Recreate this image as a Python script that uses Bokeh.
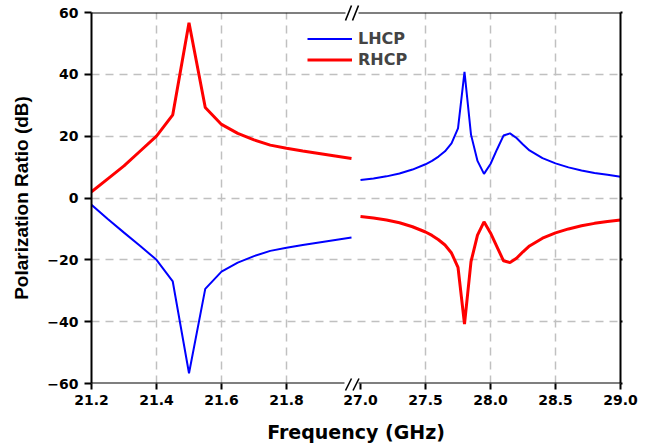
from bokeh.plotting import figure
from bokeh.models import (LinearAxis, Range1d, FixedTicker, Grid, Legend,
                          LegendItem, CustomJSTickFormatter)
from bokeh.embed import file_html
from bokeh.resources import INLINE

# ---------------- data ----------------
freq_left = [21.2, 21.25, 21.3, 21.35, 21.4, 21.45, 21.5, 21.55, 21.6,
             21.65, 21.7, 21.75, 21.8, 21.85, 21.9, 21.95, 22.0]
lhcp_left = [-2.2, -6.8, -11.2, -15.5, -20.0, -27.0, -56.7, -29.4, -23.8,
             -20.9, -18.8, -17.1, -16.1, -15.2, -14.4, -13.6, -12.8]
rhcp_left = [2.0, 6.2, 10.4, 15.2, 20.0, 26.9, 56.7, 29.3, 23.8,
             20.9, 18.8, 17.1, 16.1, 15.2, 14.4, 13.6, 12.8]

freq_right = [27.0, 27.1, 27.2, 27.3, 27.4, 27.5, 27.55, 27.6, 27.65, 27.7,
              27.75, 27.8, 27.85, 27.9, 27.95, 28.0, 28.05, 28.1, 28.15,
              28.2, 28.25, 28.3, 28.4, 28.5, 28.6, 28.7, 28.8, 28.9, 29.0]
lhcp_right = [5.8, 6.3, 7.0, 7.9, 9.2, 10.9, 12.0, 13.4, 15.1, 17.7,
              22.5, 40.8, 20.5, 12.0, 7.8, 11.0, 15.7, 20.2, 20.9,
              19.4, 17.3, 15.4, 12.9, 11.2, 9.9, 8.9, 8.1, 7.5, 6.9]
rhcp_right = [-6.0, -6.5, -7.1, -8.0, -9.3, -11.0, -12.1, -13.5, -15.2, -17.8,
              -22.4, -40.8, -20.6, -12.0, -7.7, -11.3, -15.8, -20.3, -20.9,
              -19.5, -17.4, -15.5, -13.0, -11.3, -10.0, -9.0, -8.2, -7.6, -7.1]

y_ticks = [-60, -40, -20, 0, 20, 40, 60]
y_grid = [-40, -20, 0, 20, 40]
x_ticks_left = [21.2, 21.4, 21.6, 21.8]
x_grid_left = [21.4, 21.6, 21.8]
x_ticks_right = [27.0, 27.5, 28.0, 28.5, 29.0]
x_grid_right = [27.5, 28.0, 28.5]

# ---------------- layout constants ----------------
W, H = 650, 448
FL, FR, FT, FB = 91, 620, 12, 383
L_PX = 325.0          # px per GHz, left segment
R_PX = 130.0          # px per GHz, right segment
R0_PX = 360.0         # pixel where 27.0 GHz sits
BRK_L_TOP, BRK_L_BOT, BRK_R = 345.0, 344.0, 358.0

x_left = Range1d(21.2, 21.2 + (FR - FL) / L_PX)
x_right = Range1d(27.0 - (R0_PX - FL) / R_PX, 29.0)
y_rng = Range1d(-60, 60)

def px2xl(px):
    return 21.2 + (px - FL) / L_PX

def px2xr(px):
    return 27.0 + (px - R0_PX) / R_PX

def py2y(py):
    return 60 - (py - FT) * 120.0 / (FB - FT)

p = figure(width=W, height=H, x_range=x_left, y_range=y_rng,
           x_axis_location=None, y_axis_location=None,
           toolbar_location=None, output_backend="svg",
           min_border_left=FL, min_border_right=W - FR,
           min_border_top=FT, min_border_bottom=H - FB)
p.center = []
p.extra_x_ranges = {"right": x_right}
p.outline_line_color = None
p.background_fill_color = "white"
p.border_fill_color = "white"

TICK_FONT = "DejaVu Sans"

def style_axis(ax, tick_out=6):
    ax.axis_line_width = 2
    ax.axis_line_color = "black"
    ax.major_tick_line_width = 2
    ax.major_tick_line_color = "black"
    ax.major_tick_out = tick_out
    ax.major_tick_in = 0
    ax.minor_tick_line_color = None
    ax.major_label_text_font = TICK_FONT
    ax.major_label_text_font_style = "bold"
    ax.major_label_text_font_size = "14px"
    ax.major_label_text_color = "black"
    ax.major_label_standoff = 4

# left y axis
yl = LinearAxis(ticker=FixedTicker(ticks=y_ticks),
                axis_label="Polarization Ratio (dB)")
style_axis(yl, 7)
yl.major_label_standoff = 6
yl.axis_label_text_font = "Liberation Sans"
yl.axis_label_text_font_style = "bold"
yl.axis_label_text_font_size = "19px"
yl.axis_label_text_color = "black"
yl.axis_label_standoff = 12
p.add_layout(yl, "left")

# right y axis (line + tiny ticks, no labels)
yr = LinearAxis(ticker=FixedTicker(ticks=y_ticks),
                major_label_overrides={t: "" for t in y_ticks})
style_axis(yr, 2)
p.add_layout(yr, "right")

# bottom tick axis: left-segment ticks plus right-segment ticks mapped into
# the left coordinate system; labels converted back to GHz in JS
split_u = px2xl((BRK_L_BOT + BRK_R) / 2)
r0_u = px2xl(R0_PX)
ratio = L_PX / R_PX
right_tick_u = [r0_u + (f - 27.0) / ratio for f in x_ticks_right]
fmt = CustomJSTickFormatter(
    args=dict(split=split_u, r0=r0_u, ratio=ratio),
    code="""
      if (tick < split) { return tick.toFixed(1); }
      return (27.0 + (tick - r0) * ratio).toFixed(1);
    """)
xt = LinearAxis(ticker=FixedTicker(ticks=x_ticks_left + right_tick_u),
                formatter=fmt)
style_axis(xt, 6)
xt.axis_line_color = None
xt.major_label_standoff = 5
p.add_layout(xt, "below")

xlab = LinearAxis(ticker=FixedTicker(ticks=[]), axis_label="Frequency (GHz)")
xlab.axis_line_color = None
xlab.major_tick_line_color = None
xlab.minor_tick_line_color = None
xlab.major_tick_out = 0
xlab.major_tick_in = 0
xlab.axis_label_text_font = TICK_FONT
xlab.axis_label_text_font_style = "bold"
xlab.axis_label_text_font_size = "19px"
xlab.axis_label_text_color = "black"
xlab.axis_label_standoff = 13
p.add_layout(xlab, "below")

# broken frame lines (top and bottom)
for side, loc in (("above", 60), ("below", -60)):
    brk = BRK_L_TOP if side == "above" else BRK_L_BOT
    for rng_name, b in (("default", (21.2, px2xl(brk))),
                        ("right", (px2xr(BRK_R), 29.0))):
        la = LinearAxis(x_range_name=rng_name, ticker=FixedTicker(ticks=[]),
                        bounds=b, fixed_location=loc)
        style_axis(la, 0)
        p.add_layout(la, side)

# grids
grid_kw = dict(grid_line_color="#c0c0c0", grid_line_width=1.5,
               grid_line_dash="8 6")
p.add_layout(Grid(dimension=1, ticker=FixedTicker(ticks=y_grid), **grid_kw))
p.add_layout(Grid(dimension=0, ticker=FixedTicker(ticks=x_grid_left), **grid_kw))
p.add_layout(Grid(dimension=0, ticker=FixedTicker(ticks=x_grid_right),
                  x_range_name="right", **grid_kw))

# data
BLUE, RED = "#0000ff", "#ff0000"
l1 = p.line(freq_left, lhcp_left, line_color=BLUE, line_width=2)
r1 = p.line(freq_left, rhcp_left, line_color=RED, line_width=3)
p.line(freq_right, lhcp_right, line_color=BLUE, line_width=2, x_range_name="right")
p.line(freq_right, rhcp_right, line_color=RED, line_width=3, x_range_name="right")

# axis break marks "//"
brk_x0 = [345, 352, 345, 352.5]
brk_x1 = [351, 358, 351, 358.5]
brk_y0 = [20, 20, 390, 390]
brk_y1 = [5, 5, 378, 378]
p.segment(x0=[px2xl(v) for v in brk_x0], y0=[py2y(v) for v in brk_y0],
          x1=[px2xl(v) for v in brk_x1], y1=[py2y(v) for v in brk_y1],
          line_color="black", line_width=1.6, level="overlay")

legend = Legend(items=[LegendItem(label="LHCP", renderers=[l1]),
                       LegendItem(label="RHCP", renderers=[r1])],
                location=(216, 313), glyph_width=45, glyph_height=21,
                label_height=21, label_standoff=6, padding=0, spacing=0,
                margin=0, border_line_color=None, background_fill_alpha=0,
                label_text_font=TICK_FONT, label_text_font_style="bold",
                label_text_font_size="16px")
p.add_layout(legend)

open("out.html", "w").write(file_html(p, INLINE))
